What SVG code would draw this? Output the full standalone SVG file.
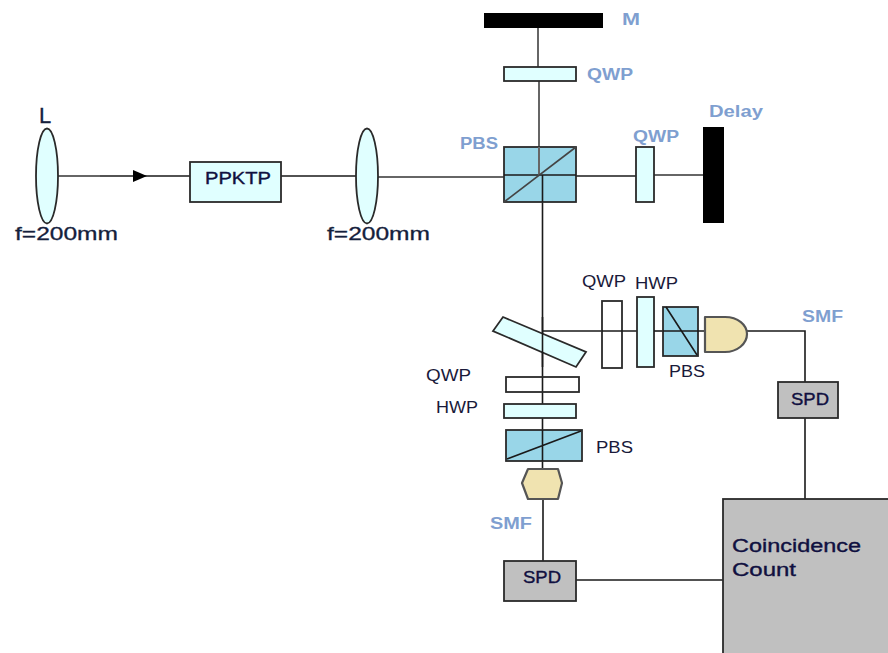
<svg xmlns="http://www.w3.org/2000/svg" width="888" height="653" viewBox="0 0 888 653">
<style>
text{font-family:"Liberation Sans",Arial,sans-serif;font-size:16px;lengthAdjust:spacingAndGlyphs}
.b{fill:#7f9fd0;font-weight:700}
.k{fill:#1a1a3a}
.f{fill:#14203c;font-size:19px;stroke:#14203c;stroke-width:.3}
.d{fill:#101040;stroke:#101040;stroke-width:.35}
.l{fill:none;stroke:#1a1a1a;stroke-width:1.6}
.g{fill:none;stroke:#666;stroke-width:2}
.o{stroke:#2a2a2a;stroke-width:1.8}
.c{fill:#e0ffff}
.p{fill:#99d6e8}
.y{fill:#f0e3b0;stroke:#555;stroke-width:2.2;stroke-linejoin:round}
.n{fill:none}
.s{fill:#c0c0c0}
</style>
<defs><marker id="a" markerWidth="14" markerHeight="12" refX="14" refY="6" orient="auto" markerUnits="userSpaceOnUse"><path d="M0 0L14 6L0 12Z" fill="#000"/></marker></defs>
<g id="connectors">
<path class="g" d="M58 176H100"/>
<path class="l" d="M100 176L147 176" marker-end="url(#a)"/>
<path class="l" d="M147 176H190M281 176H356"/>
<path class="g" d="M378 177H504"/>
<path class="g" d="M538 28V67M539 81V175"/>
<path class="l" d="M576 176H636"/>
<path class="g" d="M654 175H703"/>
<path class="l" d="M542.500 202V469M543 499V561"/>
<path class="l" d="M747 331H805V382M805 418V499M576 580H723"/>
</g>
<g id="lens1"><ellipse class="c o" cx="47" cy="176" rx="11" ry="47.500"/><text class="f" x="39" y="123" style="font-size:22px">L</text><text class="f" x="15" y="240" textLength="103" lengthAdjust="spacingAndGlyphs">f=200mm</text></g>
<g id="ppktp"><rect class="c o" x="190" y="162" width="91" height="40"/><text class="d" x="205" y="184" textLength="66" lengthAdjust="spacingAndGlyphs">PPKTP</text></g>
<g id="lens2"><ellipse class="c o" cx="367" cy="176" rx="11" ry="47.500"/><text class="f" x="327" y="240" textLength="103" lengthAdjust="spacingAndGlyphs">f=200mm</text></g>
<g id="mirror-m"><rect x="484" y="13" width="119" height="15" fill="#000"/><text class="b" x="622" y="25" textLength="18" lengthAdjust="spacingAndGlyphs">M</text></g>
<g id="qwp-top"><rect class="c o" x="504" y="67" width="72" height="14"/><text class="b" x="587" y="80" textLength="46" lengthAdjust="spacingAndGlyphs">QWP</text></g>
<g id="pbs-main"><rect class="p o" x="504" y="147" width="72" height="55"/><path class="l" d="M504 175H576M542.500 175V202"/><path class="g" d="M539 147V175"/><path d="M504 202L576 147" stroke="#444" stroke-width="1.600"/><text class="b" x="460" y="149" textLength="38" lengthAdjust="spacingAndGlyphs">PBS</text></g>
<g id="qwp-right"><rect class="c o" x="636" y="147" width="18" height="55"/><text class="b" x="633" y="142" textLength="46" lengthAdjust="spacingAndGlyphs">QWP</text></g>
<g id="delay"><rect x="703" y="127" width="21" height="96" fill="#000"/><text class="b" x="709" y="117" textLength="54" lengthAdjust="spacingAndGlyphs">Delay</text></g>
<g id="splitter"><path class="c o" d="M503 317L586 352L576 367L493 331Z"/><path class="l" d="M542.500 317V367M542 331H602"/></g>
<g id="qwp-r2"><rect class="n o" x="602" y="301" width="20" height="67"/><path class="l" d="M602 331H637"/><text class="k" x="582" y="287" textLength="44" lengthAdjust="spacingAndGlyphs">QWP</text></g>
<g id="hwp-r"><rect class="c o" x="637" y="297" width="17" height="70"/><path class="l" d="M654 331H663"/><text class="k" x="635" y="289" textLength="43" lengthAdjust="spacingAndGlyphs">HWP</text></g>
<g id="pbs-r"><rect class="p o" x="663" y="307" width="35" height="49"/><path class="l" d="M663 331H704M666 307L697 355"/><text class="k" x="669" y="377" textLength="36" lengthAdjust="spacingAndGlyphs">PBS</text></g>
<g id="coupler-r"><path class="y" d="M705 317H725C738 317 747 325 747 334C747 344 737 352 725 352H705Z"/></g>
<g id="smf-r"><text class="b" x="802" y="322" textLength="41" lengthAdjust="spacingAndGlyphs">SMF</text></g>
<g id="spd-r"><rect class="s o" x="778" y="382" width="60" height="36"/><text class="d" x="791" y="405" textLength="38" lengthAdjust="spacingAndGlyphs">SPD</text></g>
<g id="qwp-b"><rect class="n o" x="506" y="377" width="73" height="15"/><text class="k" x="426" y="381" textLength="45" lengthAdjust="spacingAndGlyphs">QWP</text></g>
<g id="hwp-b"><rect class="c o" x="504" y="404" width="72" height="14"/><text class="k" x="436" y="413" textLength="42" lengthAdjust="spacingAndGlyphs">HWP</text></g>
<g id="pbs-b"><rect class="p o" x="506" y="430" width="76" height="31"/><path class="l" d="M542.500 430V461M507 459L581 431"/><text class="k" x="596" y="453" textLength="37" lengthAdjust="spacingAndGlyphs">PBS</text></g>
<g id="coupler-b"><path class="y" d="M528 469H558L562 483L558 499H528L522 483Z"/></g>
<g id="smf-b"><text class="b" x="490" y="529" textLength="42" lengthAdjust="spacingAndGlyphs">SMF</text></g>
<g id="spd-b"><rect class="s o" x="504" y="561" width="72" height="40"/><text class="d" x="523" y="583" textLength="38" lengthAdjust="spacingAndGlyphs">SPD</text></g>
<g id="coincidence"><rect class="s o" x="723" y="499" width="170" height="160"/><text class="d" x="732" y="552" textLength="129" lengthAdjust="spacingAndGlyphs" style="font-size:18px">Coincidence</text><text class="d" x="732" y="576" textLength="64" lengthAdjust="spacingAndGlyphs" style="font-size:18px">Count</text></g>
</svg>
